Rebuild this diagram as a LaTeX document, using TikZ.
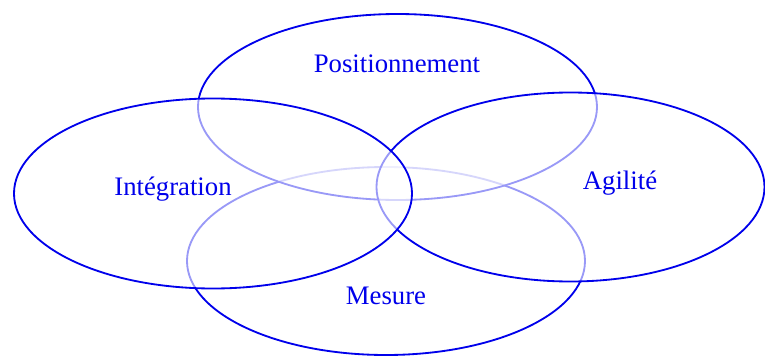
\documentclass[tikz,border=0pt]{standalone}
\usepackage{fontspec}
\setmainfont{Liberation Serif}
\usepackage{tikz}
\usetikzlibrary{positioning}

\definecolor{vennblue}{RGB}{0,0,235}

\begin{document}
\begin{tikzpicture}[x=0.025cm,y=-0.025cm,
		set/.style={draw=vennblue,line width=1.3pt,fill=white,fill opacity=0.6},
		setlabel/.style={text=vennblue,font=\fontsize{19}{22}\selectfont}]
	\useasboundingbox (0,0) rectangle (765,356);
	
	% Sets (later fills fade earlier outlines)
	\draw[set] (386,261) ellipse [x radius=199, y radius=94];
	\draw[set] (397.5,107) ellipse [x radius=199.5, y radius=93];
	\draw[set] (570.5,187) ellipse [x radius=194, y radius=94.5];
	\draw[set] (213,193.5) ellipse [x radius=199, y radius=95];
	
	% Labels
	\node[setlabel] (pos) at (397,64) {Positionnement};
	\node[setlabel] (int) at (173,189) {Intégration};
	\node[setlabel] (agi) at (620,183) {Agilité};
	\node[setlabel] (mes) at (386,296) {Mesure};
\end{tikzpicture}
\end{document}
